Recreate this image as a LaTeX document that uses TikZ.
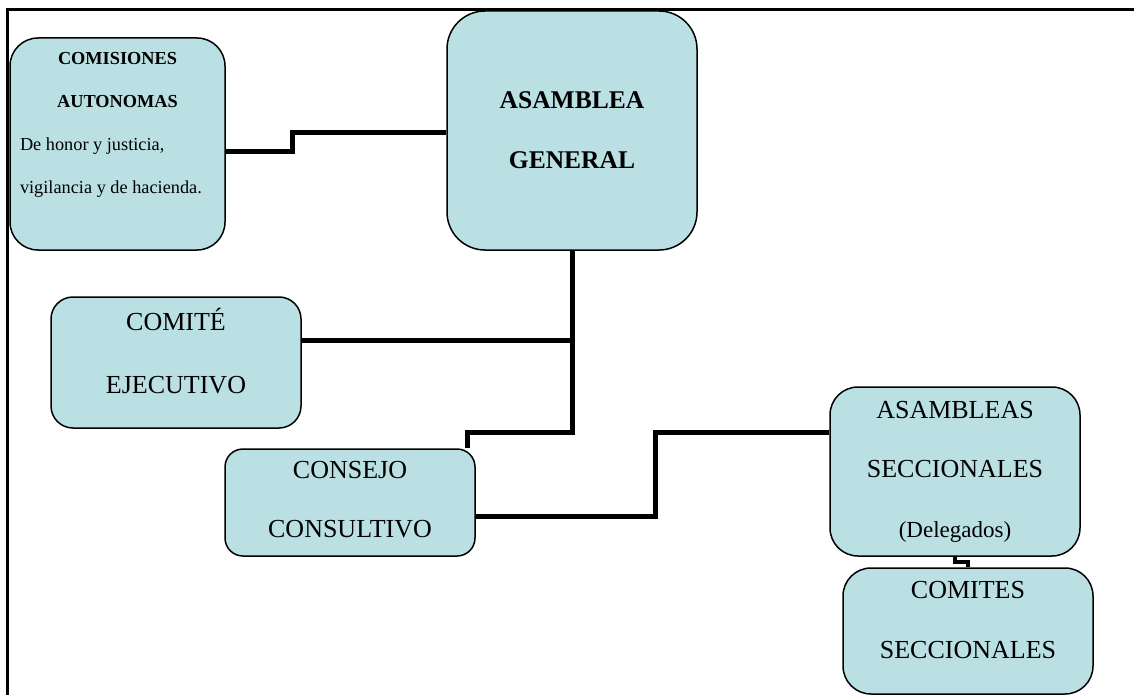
\documentclass[tikz,border=0pt]{standalone}
\usepackage{fontspec}
\setmainfont{Liberation Serif}
\usetikzlibrary{backgrounds}
\definecolor{boxfill}{RGB}{186,224,228}

\begin{document}
\begin{tikzpicture}[
		x=1pt, y=-1pt,
		box/.style={draw, line width=1.5pt, fill=boxfill, rounded corners=#1, align=center, inner sep=0pt},
		box/.default=25pt,
		conn/.style={line width=5pt},
		frame/.style={line width=3pt},
		small text/.style={font=\fontsize{18.3}{43}\selectfont},
		bold text/.style={font=\fontsize{25.5}{60}\selectfont\bfseries},
		plain text/.style={font=\fontsize{26}{#1}\selectfont},
		plain text/.default=60
		]
	
	\useasboundingbox (0,0) rectangle (1134,695);
	
	% Comisiones
	\node[box=28pt, small text, minimum width=215pt, minimum height=212pt] (comisiones) at (117.5,144)
		{\textbf{COMISIONES}\\ \textbf{AUTONOMAS}\\ \makebox[195pt][l]{De honor y justicia,}\\ \makebox[195pt][l]{vigilancia y de hacienda.}\\ \mbox{}};
	
	% Asamblea general
	\node[box=38pt, bold text, minimum width=250pt, minimum height=239pt] (asamblea) at (572,130.5)
		{ASAMBLEA\\ GENERAL};
	
	% Comite ejecutivo
	\node[box=22pt, plain text=63, text depth=24pt, minimum width=250pt, minimum height=131pt] (comite) at (176,362.5)
		{COMITÉ\\ EJECUTIVO};
	
	% Consejo consultivo
	\node[box=18pt, plain text=59, text depth=6pt, minimum width=250pt, minimum height=107pt] (consejo) at (350,502.5)
		{CONSEJO\\ CONSULTIVO};
	
	% Asambleas seccionales
	\node[box=28pt, plain text=59.5, minimum width=250pt, minimum height=169pt] (asambleas) at (955,471.5)
		{ASAMBLEAS\\ SECCIONALES\\ {\fontsize{23}{59.5}\selectfont (Delegados)}};
	
	% Comites seccionales
	\node[box=28pt, plain text=60, text depth=22pt, minimum width=250pt, minimum height=126pt] (comites) at (968,631)
		{COMITES\\ SECCIONALES};
	
	\begin{scope}[on background layer]
		% Frame
		\draw[frame] (1134,10) -- (7,10) -- (7,695);
		
		% Comisiones - Asamblea
		\draw[conn] ([yshift=-8pt]comisiones.east) -| (292,133) -- ([yshift=-2.5pt]asamblea.west);
		
		% Asamblea - Comite - Consejo
		\coordinate (j1) at (572,340);
		\coordinate (j2) at (572,432);
		\draw[conn] (asamblea.south) -- (j1) -- ([yshift=22.5pt]comite.east);
		\draw[conn] (j1) -- (j2) -| ([xshift=-8pt]consejo.north east);
		
		% Consejo - Asambleas
		\draw[conn] ([yshift=-13.5pt]consejo.east) -| (655,432) -- ([yshift=39.5pt]asambleas.west);
		
		% Asambleas - Comites
		\draw[conn, line width=4pt] (asambleas.south) -- ++(0,5) -| (comites.north);
	\end{scope}
	
\end{tikzpicture}
\end{document}
